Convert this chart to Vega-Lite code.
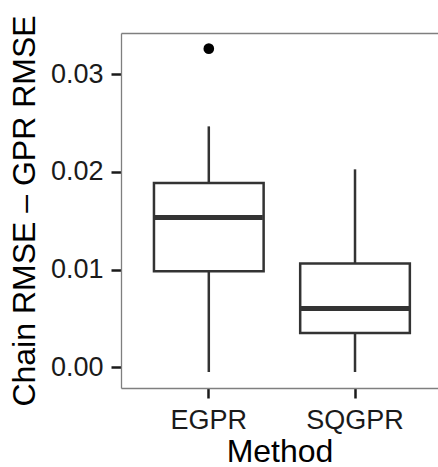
{
  "$schema": "https://vega.github.io/schema/vega-lite/v6.json",
  "autosize": {"type": "none"},
  "width": 317,
  "height": 355,
  "padding": {"left": 121, "top": 33, "right": 0, "bottom": 79},
  "background": "white",
  "config": {
    "view": {"stroke": null},
    "font": "Liberation Sans",
    "axis": {
      "grid": false,
      "domainColor": "#7f7f7f",
      "domainWidth": 1.3,
      "tickColor": "#1a1a1a",
      "tickWidth": 2.5,
      "tickSize": 10,
      "labelFont": "Liberation Sans",
      "labelFontSize": 27,
      "labelColor": "#1a1a1a",
      "titleFont": "Liberation Sans",
      "titleFontSize": 32,
      "titleFontWeight": "normal",
      "titleColor": "#000000"
    }
  },
  "datasets": {
    "stats": [
      {"Method": "EGPR", "lower": -0.00048, "q1": 0.00983, "median": 0.01533, "q3": 0.01887, "upper": 0.02467},
      {"Method": "SQGPR", "lower": -0.00048, "q1": 0.00351, "median": 0.00601, "q3": 0.01062, "upper": 0.02027}
    ],
    "outliers": [
      {"Method": "EGPR", "value": 0.03263}
    ]
  },
  "data": {"name": "stats"},
  "resolve": {"axis": {"x": "independent"}},
  "layer": [
    {
      "mark": {"type": "rule", "color": "#333333", "strokeWidth": 2.5},
      "encoding": {
        "x": {
          "field": "Method",
          "type": "nominal",
          "scale": {"type": "band", "domain": ["EGPR", "SQGPR"], "paddingInner": 0, "paddingOuter": 0.084, "align": 0.598},
          "axis": {"orient": "bottom", "labelAngle": 0, "labelPadding": 9, "titlePadding": 3, "title": "Method"}
        },
        "y": {
          "field": "lower",
          "type": "quantitative",
          "scale": {"domain": [-0.00212, 0.03423], "nice": false, "zero": false},
          "axis": {"values": [0, 0.01, 0.02, 0.03], "format": ".2f", "labelPadding": 8, "titlePadding": 9, "title": "Chain RMSE – GPR RMSE"}
        },
        "y2": {"field": "q1"}
      }
    },
    {
      "mark": {"type": "rule", "color": "#333333", "strokeWidth": 2.5},
      "encoding": {
        "x": {"field": "Method", "type": "nominal", "axis": null},
        "y": {"field": "q3", "type": "quantitative"},
        "y2": {"field": "upper"}
      }
    },
    {
      "mark": {"type": "bar", "fill": "white", "stroke": "#333333", "strokeWidth": 2.5, "width": {"band": 0.75}},
      "encoding": {
        "x": {"field": "Method", "type": "nominal", "axis": null},
        "y": {"field": "q1", "type": "quantitative"},
        "y2": {"field": "q3"}
      }
    },
    {
      "mark": {"type": "tick", "color": "#333333", "size": 108, "thickness": 5, "opacity": 1},
      "encoding": {
        "x": {"field": "Method", "type": "nominal", "axis": null},
        "y": {"field": "median", "type": "quantitative"}
      }
    },
    {
      "data": {"name": "outliers"},
      "mark": {"type": "point", "filled": true, "color": "#000000", "size": 113, "opacity": 1},
      "encoding": {
        "x": {
          "field": "Method",
          "type": "nominal",
          "axis": {"orient": "top", "labels": false, "ticks": false, "title": null, "domain": true}
        },
        "y": {"field": "value", "type": "quantitative"}
      }
    }
  ]
}
